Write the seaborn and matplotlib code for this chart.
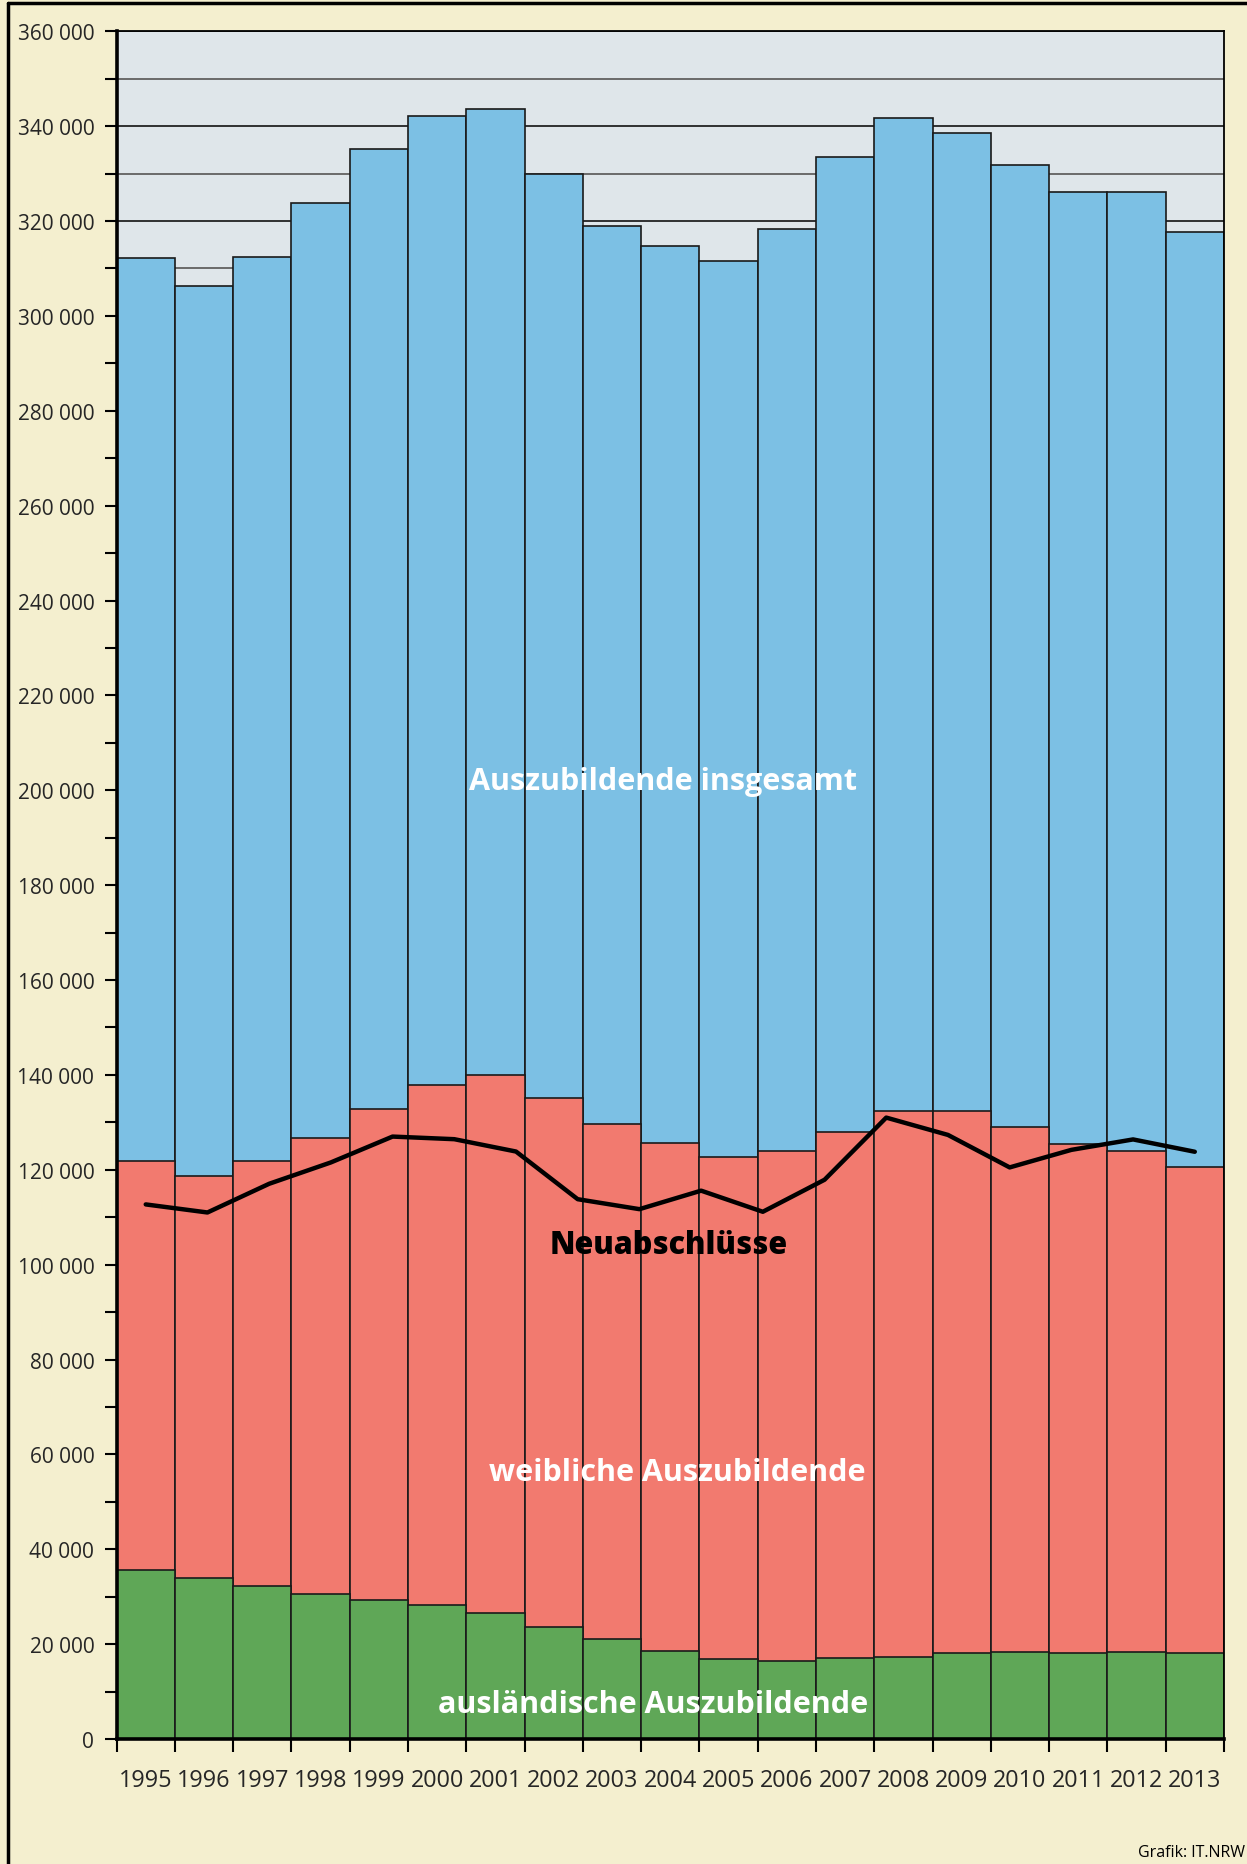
import numpy as np
import matplotlib
matplotlib.use('Agg')
import matplotlib.pyplot as plt
from matplotlib.lines import Line2D
from matplotlib.ticker import MultipleLocator, FuncFormatter
import seaborn as sns

# Daten
jahre = ['1995', '1996', '1997', '1998', '1999', '2000', '2001', '2002', '2003', '2004',
         '2005', '2006', '2007', '2008', '2009', '2010', '2011', '2012', '2013']
insgesamt = [312100, 306200, 312500, 323700, 335200, 342200, 343600, 329900, 318900, 314650,
             311650, 318400, 333400, 341700, 338450, 331900, 326100, 326050, 317700]
weiblich = [121750, 118600, 121950, 126650, 132850, 137950, 139950, 135200, 129600, 125750,
            122800, 124050, 128000, 132350, 132350, 129100, 125450, 124000, 120500]
auslaendisch = [35550, 34050, 32200, 30650, 29350, 28350, 26600, 23700, 21050, 18600,
                16900, 16350, 17100, 17400, 18100, 18250, 18200, 18300, 18050]
# Linie Neuabschluesse (18 Punkte wie in der Vorlage)
neuabschluesse = [112700, 111000, 117050, 121550, 127000, 126450, 123850, 113800, 111700,
                  115600, 111150, 117900, 131000, 127350, 120500, 124200, 126400, 123800]

c_blau = '#7cc0e4'
c_rot = '#f27a6f'
c_gruen = '#5fa757'
c_hg = '#f4efcf'
c_plot = '#dfe6ea'

sns.set_style('white')
plt.rcParams['font.family'] = ['Open Sans', 'DejaVu Sans']

fig = plt.figure(figsize=(12.47, 18.65), dpi=100)
fig.patch.set_facecolor(c_hg)
ax = fig.add_axes([0.0935, 0.067, 0.888, 0.9157])
ax.set_facecolor(c_plot)

sns.barplot(x=jahre, y=insgesamt, color=c_blau, width=1, edgecolor='#1a1a1a',
            linewidth=1.2, saturation=1, ax=ax, zorder=2)
sns.barplot(x=jahre, y=weiblich, color=c_rot, width=1, edgecolor='#1a1a1a',
            linewidth=1.2, saturation=1, ax=ax, zorder=2)
sns.barplot(x=jahre, y=auslaendisch, color=c_gruen, width=1, edgecolor='#1a1a1a',
            linewidth=1.2, saturation=1, ax=ax, zorder=2)

ax.set_xlim(-0.5, len(jahre) - 0.5)
ax.set_ylim(0, 360000)
ax.set_xlabel('')
ax.set_ylabel('')

# Gitter
ax.set_axisbelow(True)
ax.yaxis.set_major_locator(MultipleLocator(20000))
ax.yaxis.set_minor_locator(MultipleLocator(10000))
ax.yaxis.grid(True, which='major', color='black', linewidth=1.1)
ax.yaxis.grid(True, which='minor', color='#6a6a6a', linewidth=1.4)
ax.yaxis.set_major_formatter(FuncFormatter(lambda v, p: f'{int(v):,}'.replace(',', ' ')))

ax.tick_params(axis='y', which='both', direction='out', length=9, width=1.5,
               color='black', labelsize=15, pad=7, left=True)
ax.xaxis.set_minor_locator(MultipleLocator(1, offset=0.5))
ax.tick_params(axis='x', which='major', length=0, labelsize=16.8, pad=21)
ax.tick_params(axis='x', which='minor', direction='out', length=9, width=1.5,
               color='black', bottom=True)

for s in ['left', 'bottom']:
    ax.spines[s].set_linewidth(2.6)
    ax.spines[s].set_color('black')
for s in ['top', 'right']:
    ax.spines[s].set_linewidth(1.3)
    ax.spines[s].set_color('black')

# Linie Neuabschluesse auf eigener x-Achse
ax2 = ax.twiny()
n = len(neuabschluesse)
k = (n - 1) / (len(jahre) - 1)
ax2.set_xlim(-0.5 * k, (len(jahre) - 0.5) * k)
sns.lineplot(x=np.arange(n), y=neuabschluesse, color='black', linewidth=3.2, ax=ax2,
             zorder=5)
ax2.set_ylim(0, 360000)
ax2.axis('off')

# Beschriftungen
fig.text(663 / 1247, 1 - 782 / 1865, 'Auszubildende insgesamt', ha='center', va='center',
         color='white', fontsize=22, fontweight='bold')
fig.text(669 / 1247, 1 - 1246 / 1865, 'Neuabschlüsse', ha='center', va='center',
         color='black', fontsize=22, fontweight='heavy')
fig.text(677 / 1247, 1 - 1473 / 1865, 'weibliche Auszubildende', ha='center', va='center',
         color='white', fontsize=22, fontweight='bold')
fig.text(653 / 1247, 1 - 1705 / 1865, 'ausländische Auszubildende', ha='center',
         va='center', color='white', fontsize=22, fontweight='bold')
fig.text(0.9985, 1 - 1853 / 1865, 'Grafik: IT.NRW', ha='right', va='center',
         color='black', fontsize=11.5)

# Rahmen links und oben
fig.add_artist(Line2D([0.0066, 0.0066], [0, 0.9977], color='black', linewidth=2.5,
                      transform=fig.transFigure))
fig.add_artist(Line2D([0.0066, 1], [0.9977, 0.9977], color='black', linewidth=2.5,
                      transform=fig.transFigure))

fig.savefig('out.png', dpi=100, facecolor=fig.get_facecolor())
